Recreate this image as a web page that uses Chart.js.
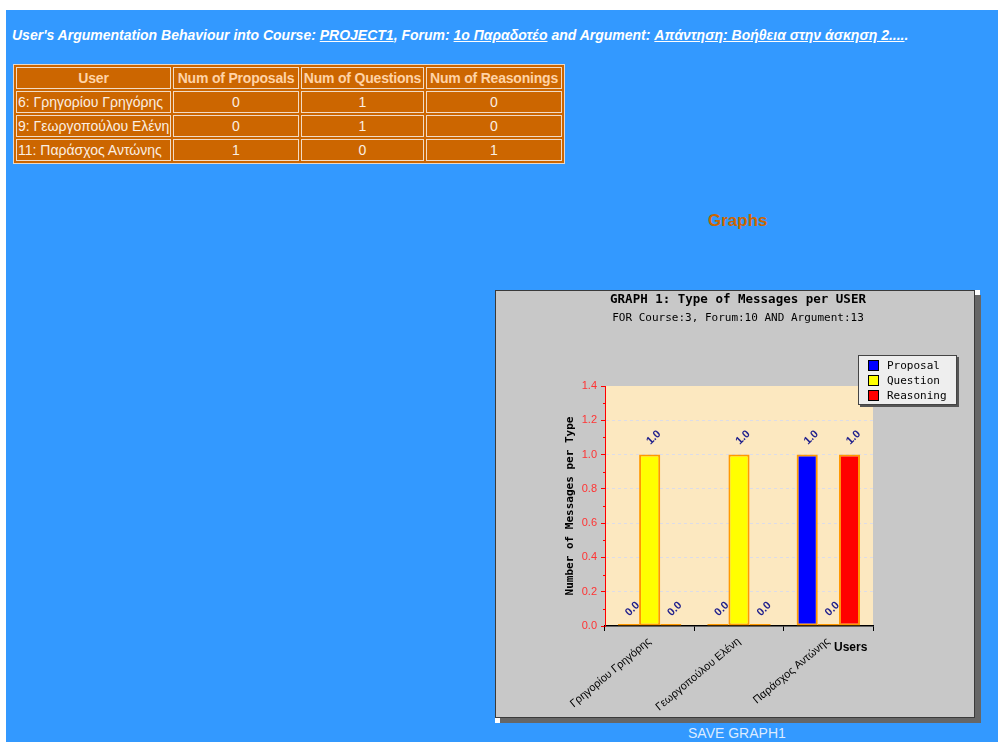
<!DOCTYPE html>
<html>
<head>
<meta charset="utf-8">
<script src="https://cdn.jsdelivr.net/npm/chart.js@4.4.1/dist/chart.umd.min.js"></script>
<style>
  html, body { margin: 0; padding: 0; background: #ffffff; width: 998px; height: 742px; overflow: hidden; }
  #page { position: absolute; left: 6px; top: 10px; width: 992px; height: 732px; background: #3399FF; }
  #title { position: absolute; left: 12px; top: 27px; font: italic bold 14px "Liberation Sans", Arial, sans-serif; color: #ffffff; white-space: nowrap; }
  #title u { text-decoration: underline; }
  #tbl { position: absolute; left: 13px; top: 64px; width: 550px; table-layout: fixed; border-collapse: separate; border-spacing: 2px; background: #CC6600; border: 1px solid #E8D8C8; font: 14px "Liberation Sans", Arial, sans-serif; }
  #tbl th, #tbl td { border: 1px solid #F2DCC6; height: 20px; padding: 0 1px; white-space: nowrap; overflow: hidden; }
  #tbl th { color: #FFD3A6; font-weight: bold; text-align: center; letter-spacing: -0.2px; }
  #tbl td { color: #FBEFE3; text-align: center; }
  #tbl td.u { text-align: left; }
  #graphs { position: absolute; left: 708px; top: 211px; font: bold 17px "Liberation Sans", Arial, sans-serif; color: #CC6600; }
  #box { position: absolute; left: 495px; top: 290px; width: 486px; height: 433px; }
  #save { position: absolute; left: 688px; top: 725px; font: 14px "Liberation Sans", Arial, sans-serif; color: #DCEBFF; }
</style>
</head>
<body>
<div id="page"></div>
<div id="title">User's Argumentation Behaviour into Course: <u>PROJECT1</u>, Forum: <u>1ο Παραδοτέο</u> and Argument: <u>Απάντηση: Βοήθεια στην άσκηση 2....</u>.</div>
<table id="tbl"><colgroup id="cols"></colgroup><thead><tr id="hdr"></tr></thead><tbody id="tb"></tbody></table>
<div id="graphs">Graphs</div>
<div id="box"><canvas id="c" width="486" height="433"></canvas></div>
<div id="save">SAVE GRAPH1</div>
<script>
// ---- data ----
const userIds = ["6", "9", "11"];
const users = ["Γρηγορίου Γρηγόρης", "Γεωργοπούλου Ελένη", "Παράσχος Αντώνης"];
const proposals = [0, 0, 1];
const questions = [1, 1, 0];
const reasonings = [0, 0, 1];
const seriesNames = ["Proposal", "Question", "Reasoning"];
const tableHeaders = ["User", "Num of Proposals", "Num of Questions", "Num of Reasonings"];
const yTicks = [0, 0.2, 0.4, 0.6, 0.8, 1.0, 1.2, 1.4];
const seriesColors = ["#0000FF", "#FFFF00", "#FF0000"];

// ---- table ----
const colW = [155, 126, 123, 136];
const cols = document.getElementById('cols');
colW.forEach(w => { const c = document.createElement('col'); c.style.width = w + 'px'; cols.appendChild(c); });
const hdr = document.getElementById('hdr');
tableHeaders.forEach((h) => { const th = document.createElement('th'); th.textContent = h; hdr.appendChild(th); });
const tb = document.getElementById('tb');
users.forEach((u, i) => {
  const tr = document.createElement('tr');
  const cells = [userIds[i] + ": " + u, proposals[i], questions[i], reasonings[i]];
  cells.forEach((v, j) => { const td = document.createElement('td'); td.textContent = v; if (j === 0) td.className = 'u'; tr.appendChild(td); });
  tb.appendChild(tr);
});

// ---- chart ----
const W = 480, H = 428;
const frame = {
  id: 'frame',
  beforeDraw(chart) {
    const ctx = chart.ctx;
    ctx.save();
    ctx.fillStyle = '#3399FF'; ctx.fillRect(0, 0, 486, 433);
    ctx.fillStyle = '#666666';
    ctx.fillRect(W, 5, 6, H);
    ctx.fillRect(5, H, W + 1, 5);
    ctx.fillStyle = '#C8C8C8'; ctx.fillRect(0, 0, W, H);
    ctx.strokeStyle = '#3a3a3a'; ctx.lineWidth = 1;
    ctx.strokeRect(0.5, 0.5, W - 1, H - 1);
    ctx.fillStyle = '#ffffff';
    ctx.fillRect(W, 0, 5, 5);
    ctx.fillRect(0, H, 5, 5);
    const a = chart.chartArea;
    ctx.fillStyle = '#FCE8C0';
    ctx.fillRect(a.left, a.top, a.right - a.left, a.bottom - a.top);
    ctx.fillStyle = '#000';
    ctx.textAlign = 'center'; ctx.textBaseline = 'middle';
    ctx.font = 'bold 12.5px "DejaVu Sans Mono", monospace';
    ctx.fillText('GRAPH 1: Type of Messages per USER', 243, 10);
    ctx.font = '11px "DejaVu Sans Mono", monospace';
    ctx.fillText('FOR Course:3, Forum:10 AND Argument:13', 243, 28);
    ctx.save();
    ctx.translate(75, 216);
    ctx.rotate(-Math.PI / 2);
    ctx.font = 'bold 11px "DejaVu Sans Mono", monospace';
    ctx.fillText('Number of Messages per Type', 0, 0);
    ctx.restore();
    ctx.font = 'bold 12px "Liberation Sans", Arial, sans-serif';
    ctx.textAlign = 'left';
    ctx.fillText('Users', 339, 358);
    ctx.restore();
  },
  afterDraw(chart) {
    const ctx = chart.ctx;
    const ys = chart.scales.y;
    ctx.save();
    ctx.strokeStyle = '#FF0000'; ctx.lineWidth = 1;
    for (let i = 0; i < yTicks.length - 1; i++) {
      const v = (yTicks[i] + yTicks[i + 1]) / 2;
      const py = Math.round(ys.getPixelForValue(v)) + 0.5;
      ctx.beginPath(); ctx.moveTo(ys.right - 2, py); ctx.lineTo(ys.right, py); ctx.stroke();
    }
    const lx = 363, ly = 65, lw = 99, lh = 50;
    ctx.fillStyle = '#555555'; ctx.fillRect(lx + 2, ly + 2, lw, lh);
    ctx.fillStyle = '#EEEEEE'; ctx.fillRect(lx, ly, lw, lh);
    ctx.strokeStyle = '#444444'; ctx.strokeRect(lx + 0.5, ly + 0.5, lw - 1, lh - 1);
    ctx.font = '11px "DejaVu Sans Mono", monospace';
    ctx.textAlign = 'left'; ctx.textBaseline = 'middle';
    chart.data.datasets.forEach((ds, i) => {
      const cy = ly + 10 + i * 15;
      ctx.fillStyle = ds.backgroundColor; ctx.fillRect(lx + 10, cy - 5, 11, 11);
      ctx.strokeStyle = '#000'; ctx.strokeRect(lx + 10.5, cy - 4.5, 10, 10);
      ctx.fillStyle = '#000'; ctx.fillText(ds.label, lx + 29, cy + 1);
    });
    ctx.restore();
  },
  afterDatasetsDraw(chart) {
    const ctx = chart.ctx;
    ctx.save();
    ctx.fillStyle = '#1E1E8C';
    ctx.font = 'bold 11px "Liberation Sans", Arial, sans-serif';
    ctx.textAlign = 'center'; ctx.textBaseline = 'middle';
    const base = chart.scales.y.getPixelForValue(0);
    chart.data.datasets.forEach((ds, di) => {
      chart.getDatasetMeta(di).data.forEach((el, i) => {
        const v = ds.data[i];
        const top = v === 0 ? base : el.y;
        ctx.save();
        ctx.translate(el.x + 4, top - 17);
        ctx.rotate(-Math.PI / 4);
        ctx.fillText(v.toFixed(1), 0, 0);
        ctx.restore();
      });
    });
    ctx.restore();
  }
};

new Chart(document.getElementById('c'), {
  type: 'bar',
  data: {
    labels: users,
    datasets: [proposals, questions, reasonings].map((d, i) => ({
      label: seriesNames[i],
      data: d,
      backgroundColor: seriesColors[i],
      borderColor: '#FF9900',
      borderWidth: 2,
      borderSkipped: false,
      minBarLength: 2,
      barPercentage: 1.0,
      categoryPercentage: 0.71
    }))
  },
  options: {
    responsive: false,
    animation: false,
    devicePixelRatio: 1,
    layout: { padding: { left: 0, top: 96, right: 108, bottom: 5 } },
    plugins: { legend: { display: false }, tooltip: { enabled: false }, title: { display: false } },
    scales: {
      x: {
        afterFit(s) { s.height = 92; },
        grid: { offset: true, drawOnChartArea: false, drawTicks: true, tickLength: 5, color: '#000000' },
        border: { color: '#000000', width: 1.5 },
        ticks: { color: '#000000', font: { family: '"Liberation Sans", Arial, sans-serif', size: 11 }, minRotation: 40, maxRotation: 40, padding: 4 }
      },
      y: {
        min: 0, max: 1.4,
        afterFit(s) { s.width = 110; },
        afterBuildTicks(s) { s.ticks = yTicks.map(v => ({ value: v })); },
        grid: {
          color: (c) => (c.tick && c.tick.value > 0 && c.tick.value < 1.4) ? '#DCDCE8' : 'rgba(0,0,0,0)',
          tickColor: '#FF0000', tickLength: 4, drawTicks: true
        },
        border: { color: '#FF0000', width: 1, dash: [3, 3] },
        ticks: { color: '#FF3333', font: { family: '"Liberation Sans", Arial, sans-serif', size: 11 }, padding: 4, callback: (v) => Number(v).toFixed(1) }
      }
    }
  },
  plugins: [frame]
});
</script>
</body>
</html>
